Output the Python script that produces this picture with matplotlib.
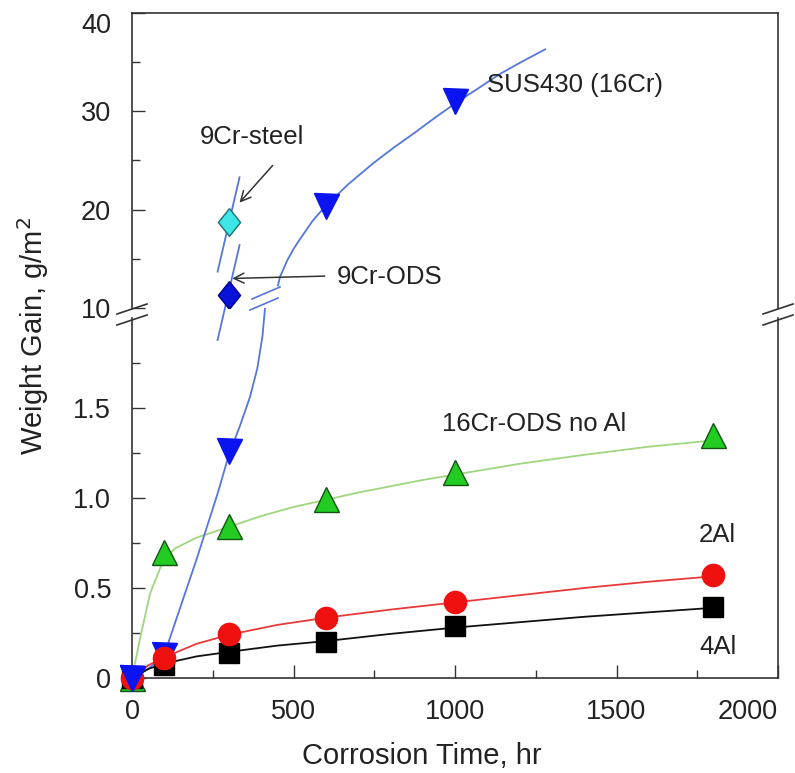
import numpy as np
import matplotlib
matplotlib.use("Agg")
import matplotlib.pyplot as plt
from matplotlib.lines import Line2D

plt.rcParams['font.family'] = ['Liberation Sans', 'DejaVu Sans']

# Measured weight gain (g/m^2) vs corrosion time (hr)
time_al = [0, 100, 300, 600, 1000, 1800]
gain_4al = [0, 0.075, 0.14, 0.20, 0.29, 0.395]
gain_2al = [0, 0.11, 0.245, 0.335, 0.42, 0.57]
gain_noal = [0, 0.70, 0.845, 0.995, 1.145, 1.35]

time_sus_low = [0, 100, 300]
gain_sus_low = [0, 0.13, 1.26]
time_sus_high = [600, 1000]
gain_sus_high = [20.4, 31.0]

time_9cr = [300]
gain_9cr_steel = [18.7]
gain_9cr_ods = [11.3]

# Fitted trend curves
fit_4al_t = [0, 50, 100, 200, 300, 450, 600, 800, 1000, 1200, 1400, 1600, 1800]
fit_4al_g = [0, 0.05, 0.08, 0.12, 0.145, 0.18, 0.205, 0.245, 0.28, 0.31, 0.34, 0.365, 0.39]
fit_2al_t = [0, 50, 100, 200, 300, 450, 600, 800, 1000, 1200, 1400, 1600, 1800]
fit_2al_g = [0, 0.07, 0.115, 0.19, 0.24, 0.295, 0.335, 0.38, 0.42, 0.46, 0.50, 0.535, 0.565]
fit_noal_t = [0, 25, 56, 96, 133, 200, 300, 400, 500, 600, 700, 800, 900, 1000,
              1200, 1400, 1600, 1800]
fit_noal_g = [0, 0.22, 0.47, 0.65, 0.72, 0.78, 0.84, 0.90, 0.95, 0.99, 1.03, 1.065,
              1.10, 1.13, 1.19, 1.24, 1.285, 1.32]
fit_sus_low_t = [0, 50, 100, 200, 266, 300, 334, 365, 388, 404, 412]
fit_sus_low_g = [0, 0.05, 0.13, 0.66, 1.03, 1.24, 1.40, 1.56, 1.72, 1.90, 2.06]
fit_sus_high_t = [452, 458, 480, 500, 520, 560, 600, 670, 746, 810, 870, 940, 1000,
                  1070, 1139, 1210, 1279]
fit_sus_high_g = [12.3, 13.15, 14.8, 16.0, 17.0, 18.9, 20.4, 22.6, 24.7, 26.3, 27.7,
                  29.4, 30.8, 32.3, 33.8, 35.1, 36.3]
seg_9cr_t = [265, 333]
seg_steel_g = [13.7, 23.3]
seg_ods_g = [6.75, 16.4]

W, H = 795, 773
fig = plt.figure(figsize=(W / 100, H / 100), dpi=100)

def px(x, y):
    return x / W, 1 - y / H

left, right = 132, 778
ax_lo = fig.add_axes([left / W, 1 - 678 / H, (right - left) / W, (678 - 318) / H])
ax_hi = fig.add_axes([left / W, 1 - 308 / H, (right - left) / W, (308 - 13) / H])

spine_c = '#333333'
line_blue = '#5577dd'
for ax in (ax_lo, ax_hi):
    ax.set_xlim(0, 2000)
    for s in ax.spines.values():
        s.set_color(spine_c)
        s.set_linewidth(1.2)
    ax.tick_params(which='both', direction='in', colors=spine_c, labelcolor='#222222',
                   labelsize=19.5, top=False, right=False, width=1.0)
    ax.tick_params(which='major', length=9.5)
    ax.tick_params(which='minor', length=5.5)
    ax.tick_params(axis='y', pad=15)

ax_lo.spines['top'].set_visible(False)
ax_hi.spines['bottom'].set_visible(False)

ax_lo.set_ylim(0, 2.0)
ax_lo.set_yticks([0, 0.5, 1.0, 1.5])
ax_lo.set_yticklabels(['0', '0.5', '1.0', '1.5'])
ax_lo.set_yticks([0.25, 0.75, 1.25, 1.75], minor=True)
ax_lo.set_xticks([0, 500, 1000, 1500, 2000])
ax_lo.set_xticks([250, 750, 1250, 1750], minor=True)
ax_lo.tick_params(axis='x', pad=15)
xl = ax_lo.set_xticklabels(['0', '500', '1000', '1500', '2000'])
xl[-1].set_ha('right')

ax_hi.set_ylim(10, 40)
ax_hi.set_yticks([10, 20, 30, 40])
ax_hi.set_yticks([15, 25, 35], minor=True)
ax_hi.set_xticks([])
# keep the top label inside the canvas
ax_hi.get_yticklabels()[-1].set_va('top')

# lower panel
ax_lo.plot(fit_noal_t, fit_noal_g, color='#9fd67f', lw=1.3, zorder=2)
ax_lo.plot(fit_sus_low_t, fit_sus_low_g, color=line_blue, lw=1.3, zorder=2, clip_on=False)
ax_lo.plot(fit_4al_t, fit_4al_g, color='#111111', lw=1.3, zorder=2)
ax_lo.plot(fit_2al_t, fit_2al_g, color='#e83a3a', lw=1.3, zorder=2)

ax_lo.plot(time_al, gain_noal, '^', ms=18, color='#22cc22', mec='#115511', mew=1.0,
           zorder=4, clip_on=False)
ax_lo.plot(time_sus_low, gain_sus_low, 'v', ms=18, color='#0a14f0', mec='#0a14f0',
           zorder=5, clip_on=False)
ax_lo.plot(time_al, gain_4al, 's', ms=14.5, color='#000000', zorder=5, clip_on=False)
ax_lo.plot(time_al, gain_2al, 'o', ms=16, color='#f01010', mec='#f01010', zorder=6,
           clip_on=False)
ax_lo.plot([0], [0], 'v', ms=18, color='#0a14f0', zorder=7, clip_on=False)

# upper panel
ax_hi.plot(fit_sus_high_t, fit_sus_high_g, color=line_blue, lw=1.3, zorder=2, clip_on=False)
ax_hi.plot(seg_9cr_t, seg_steel_g, color=line_blue, lw=1.3, zorder=2, clip_on=False)
ax_hi.plot(seg_9cr_t, seg_ods_g, color=line_blue, lw=1.3, zorder=2, clip_on=False)
ax_hi.plot(time_sus_high, gain_sus_high, 'v', ms=18, color='#0a14f0', zorder=5)
diamond = [(0, 1), (0.8, 0), (0, -1), (-0.8, 0), (0, 1)]
ax_hi.plot(time_9cr, gain_9cr_steel, marker=diamond, ms=20, ls='none', color='#3ee6e6',
           mec='#1f6f6f', mew=1.0, zorder=5)
ax_hi.plot(time_9cr, gain_9cr_ods, marker=diamond, ms=20, ls='none', color='#0812d8',
           mec='#000088', mew=1.0, zorder=5)

txt = dict(fontsize=18.5, color='#222222', va='center')
ax_hi.text(1099, 32.7, 'SUS430 (16Cr)', ha='left', **txt)
ax_hi.text(370, 27.4, '9Cr-steel', ha='center', **txt)
ax_hi.text(633, 13.15, '9Cr-ODS', ha='left', **txt)
ax_hi.annotate('', xy=(327, 20.5), xytext=(441, 24.7),
               arrowprops=dict(arrowstyle='->', color='#333333', lw=1.1,
                               mutation_scale=18))
ax_hi.annotate('', xy=(302, 13.0), xytext=(605, 13.25),
               arrowprops=dict(arrowstyle='->', color='#333333', lw=1.1,
                               mutation_scale=18))
ax_lo.text(960, 1.41, '16Cr-ODS no Al', ha='left', **txt)
ax_lo.text(1755, 0.795, '2Al', ha='left', **txt)
ax_lo.text(1758, 0.172, '4Al', ha='left', **txt)

# break marks on both spines and on the SUS430 curve
def slash(cx, cy, half=15, rise=5, color=spine_c):
    x0, y0 = px(cx - half, cy + rise)
    x1, y1 = px(cx + half, cy - rise)
    fig.add_artist(Line2D([x0, x1], [y0, y1], color=color, lw=1.2))

for cx in (left, right):
    slash(cx, 309)
    slash(cx, 320)
slash(264, 304, half=14, rise=6, color=line_blue)
slash(266, 293, half=14, rise=6, color=line_blue)

fig.text(*px(422, 756), 'Corrosion Time, hr', fontsize=21, ha='center', va='center',
         color='#222222')
fig.text(*px(33, 336), 'Weight Gain, g/m$^2$', fontsize=21, ha='center', va='center',
         rotation=90, color='#222222')

fig.savefig('out.png', dpi=100)
